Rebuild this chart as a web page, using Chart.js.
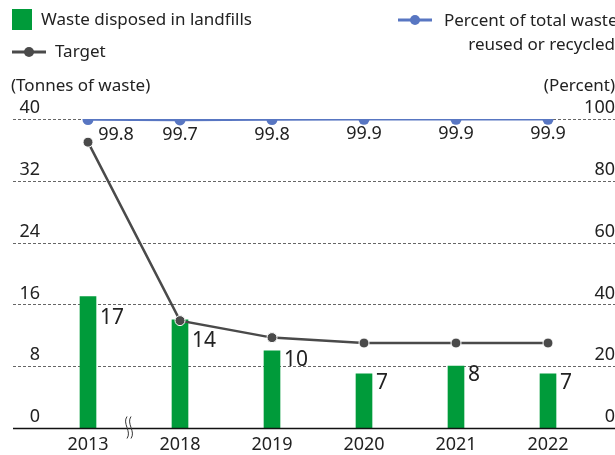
<!DOCTYPE html>
<html>
<head>
<meta charset="utf-8">
<script src="https://cdn.jsdelivr.net/npm/chart.js@4"></script>
<style>
    html, body { margin: 0; padding: 0; background: #fff; }
</style>
</head>
<body>
<canvas id="myChart" width="615" height="455"></canvas>
<script>
const years = ['2013', '2018', '2019', '2020', '2021', '2022'];
const landfill = [17, 14, 10, 7, 8, 7];
const target = [37, 13.9, 11.7, 11, 11, 11];
const recycled = [99.8, 99.7, 99.8, 99.9, 99.9, 99.9];
const leftTicks = [0, 8, 16, 24, 32, 40];
const rightTicks = [0, 20, 40, 60, 80, 100];
const leftTitle = '(Tonnes of waste)';
const rightTitle = '(Percent)';

const FONT = '"Noto Sans", sans-serif';
const TEXT = '#222';
const GREEN = '#009b3a';
const BLUE = '#5876c2';
const GRAY = '#4a4a4a';

// grid, axis, labels, legend - all drawn by hand
const decor = {
    id: 'decor',
    beforeDatasetsDraw(chart) {
        const ctx = chart.ctx;
        const y = chart.scales.y;
        ctx.save();
        ctx.strokeStyle = '#666';
        ctx.lineWidth = 1;
        ctx.setLineDash([3, 2]);
        for (const t of leftTicks) {
            if (t === 0) continue;
            const py = Math.round(y.getPixelForValue(t)) + 0.5;
            ctx.beginPath();
            ctx.moveTo(13, py);
            ctx.lineTo(615, py);
            ctx.stroke();
        }
        ctx.restore();
    },
    afterDatasetsDraw(chart) {
        const ctx = chart.ctx;
        const x = chart.scales.x;
        const y = chart.scales.y;
        const y0 = Math.round(y.getPixelForValue(0)) + 0.5;
        ctx.save();
        ctx.strokeStyle = '#111';
        ctx.lineWidth = 1.5;
        ctx.beginPath();
        ctx.moveTo(13, y0);
        ctx.lineTo(615, y0);
        ctx.stroke();

        // axis break between 2013 and 2018
        const bx = (x.getPixelForValue(0) + x.getPixelForValue(1)) / 2 - 7;
        ctx.lineWidth = 1;
        ctx.strokeStyle = '#333';
        for (const dx of [0, 4]) {
            ctx.beginPath();
            ctx.moveTo(bx + dx, y0 - 12);
            ctx.bezierCurveTo(bx + dx - 5, y0 - 5, bx + dx + 5, y0 + 3, bx + dx, y0 + 10);
            ctx.stroke();
        }

        ctx.fillStyle = TEXT;
        ctx.textBaseline = 'middle';

        // bar labels (first two sit lower, clear of the target line)
        ctx.font = '21px ' + FONT;
        ctx.textAlign = 'left';
        chart.getDatasetMeta(0).data.forEach((bar, i) => {
            const drop = i < 2 ? 21 : 9;
            ctx.fillText(String(Math.round(landfill[i])), bar.x + bar.width / 2 + 4, bar.y + drop);
        });

        // percent labels
        ctx.font = '18px ' + FONT;
        ctx.textAlign = 'center';
        chart.getDatasetMeta(2).data.forEach((pt, i) => {
            const shift = i === 0 ? 28 : 0;
            ctx.fillText(recycled[i].toFixed(1), pt.x + shift, pt.y + 15);
        });
        ctx.restore();
    },
    afterDraw(chart) {
        const ctx = chart.ctx;
        const x = chart.scales.x;
        const y = chart.scales.y;
        const y1 = chart.scales.y1;
        const ds = chart.data.datasets;
        ctx.save();
        ctx.fillStyle = TEXT;
        ctx.textBaseline = 'middle';

        // tick labels
        ctx.font = '18px ' + FONT;
        ctx.textAlign = 'right';
        for (const t of leftTicks) {
            ctx.fillText(String(t), 40, y.getPixelForValue(t) - 11);
        }
        for (const t of rightTicks) {
            ctx.fillText(String(t), 615, y1.getPixelForValue(t) - 11);
        }
        ctx.textAlign = 'center';
        years.forEach((yr, i) => {
            ctx.fillText(yr, x.getPixelForValue(i), 445);
        });

        // axis titles
        ctx.font = '17px ' + FONT;
        ctx.textAlign = 'left';
        ctx.fillText(leftTitle, 11, 86);
        ctx.textAlign = 'right';
        ctx.fillText(rightTitle, 615, 86);

        // legend
        ctx.font = '17px ' + FONT;
        ctx.fillStyle = ds[0].backgroundColor;
        ctx.fillRect(12, 9, 20, 21);
        ctx.fillStyle = TEXT;
        ctx.textAlign = 'left';
        ctx.fillText(ds[0].label, 41, 20);

        const marker = (cx, cy, color) => {
            ctx.strokeStyle = color;
            ctx.lineWidth = 3;
            ctx.beginPath();
            ctx.moveTo(cx - 17, cy);
            ctx.lineTo(cx + 17, cy);
            ctx.stroke();
            ctx.fillStyle = color;
            ctx.beginPath();
            ctx.arc(cx, cy, 5, 0, Math.PI * 2);
            ctx.fill();
        };
        marker(29, 52, ds[1].borderColor);
        ctx.fillStyle = TEXT;
        ctx.fillText(ds[1].label, 55, 52);

        marker(415, 20, ds[2].borderColor);
        ctx.fillStyle = TEXT;
        ctx.fillText('Percent of total waste', 444, 21);
        ctx.textAlign = 'right';
        ctx.fillText('reused or recycled', 615, 45);
        ctx.restore();
    }
};

const ctx = document.getElementById('myChart').getContext('2d');
const myChart = new Chart(ctx, {
    type: 'bar',
    data: {
        labels: years,
        datasets: [
            {
                label: 'Waste disposed in landfills',
                data: landfill,
                backgroundColor: GREEN,
                barThickness: 16,
                yAxisID: 'y',
                order: 3
            },
            {
                type: 'line',
                label: 'Target',
                data: target,
                borderColor: GRAY,
                backgroundColor: GRAY,
                borderWidth: 2.5,
                pointRadius: 5,
                pointBackgroundColor: GRAY,
                pointBorderColor: '#fff',
                pointBorderWidth: 1,
                tension: 0,
                yAxisID: 'y',
                order: 2
            },
            {
                type: 'line',
                label: 'Percent of total waste reused or recycled',
                data: recycled,
                borderColor: BLUE,
                backgroundColor: BLUE,
                borderWidth: 2.5,
                pointRadius: 5.5,
                pointBackgroundColor: BLUE,
                pointBorderColor: BLUE,
                pointBorderWidth: 0,
                tension: 0,
                yAxisID: 'y1',
                order: 1
            }
        ]
    },
    options: {
        responsive: false,
        animation: false,
        layout: { padding: { left: 42, right: 21, top: 119, bottom: 27 } },
        plugins: {
            legend: { display: false },
            tooltip: { enabled: false }
        },
        scales: {
            x: { display: false, offset: true },
            y: { display: false, min: 0, max: 40 },
            y1: { display: false, min: 0, max: 100, position: 'right' }
        }
    },
    plugins: [decor]
});
</script>
</body>
</html>
